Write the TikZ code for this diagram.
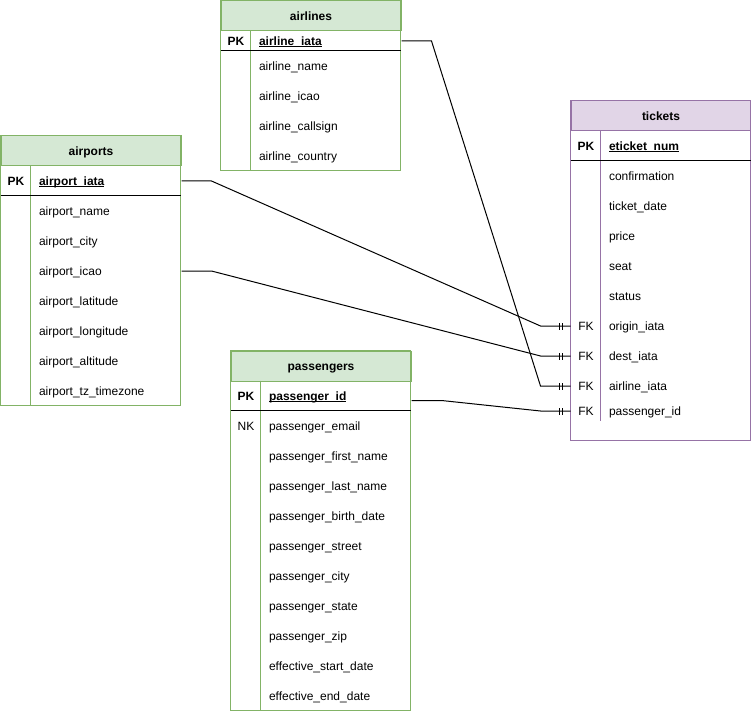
\documentclass[tikz,border=0pt]{standalone}
\usepackage{fontspec}
\setmainfont{Liberation Sans}
\usetikzlibrary{decorations.markings}
\newcommand{\pkname}[1]{\sbox0{#1}\rlap{\rule[-1.6pt]{\wd0}{0.7pt}}\usebox0}
\newcommand{\fsz}{\fontsize{12}{14}\selectfont}

\begin{document}
\begin{tikzpicture}[x=1pt, y=-1pt, line width=1pt, font=\fsz]
\definecolor{cG}{HTML}{D5E8D4}
\definecolor{cGd}{HTML}{82B366}
\definecolor{cP}{HTML}{E1D5E7}
\definecolor{cPd}{HTML}{9673A6}
\tikzset{
  hdr/.style={anchor=north west, minimum width=180, minimum height=30, inner sep=0, font=\fsz\bfseries, text height=10.5pt, text depth=1.5pt},
  kcol/.style={anchor=north west, minimum width=30, minimum height=30, inner sep=0, text height=10.5pt, text depth=1.5pt},
  fld/.style={anchor=north west, minimum height=30, inner xsep=8pt, inner ysep=0, text width=134pt, align=left, text height=10.5pt, text depth=1.5pt},
  fk/.style={postaction={decorate}, decoration={markings,
      mark=at position -8pt with {\draw[line width=1pt] (0,-3.5pt) -- (0,3.5pt);},
      mark=at position -11pt with {\draw[line width=1pt] (0,-3.5pt) -- (0,3.5pt);}}}
}
\useasboundingbox (0,0) rectangle (751,711);

% airports
\def\xu{0.5}
\def\yu{135.5}
\node[hdr, fill=cG, draw=cGd] (ap) at (\xu,\yu) {airports};
\node[kcol, font=\fsz\bfseries] (ap-k) at (\xu,\yu+30) {PK};
\node[fld, font=\fsz\bfseries] (ap-pk) at (\xu+30,\yu+30) {\pkname{airport\_iata}};
\foreach \i/\f in {1/airport\_name, 2/airport\_city, 3/airport\_icao, 4/airport\_latitude,
    5/airport\_longitude, 6/airport\_altitude, 7/airport\_tz\_timezone}{
  \node[fld] (ap-\i) at (\xu+30,\yu+30+30*\i) {\f};
}
\draw[cGd] (\xu,\yu) rectangle ++(180,270);
\draw[cGd] (\xu+30,\yu+30) -- ++(0,240);
\draw (\xu,\yu+60) -- ++(180,0);

% airlines
\def\xu{220.5}
\def\yu{0.5}
\node[hdr, fill=cG, draw=cGd] (al) at (\xu,\yu) {airlines};
\node[kcol, minimum height=20, font=\fsz\bfseries] (al-k) at (\xu,\yu+30) {PK};
\node[fld, minimum height=20, font=\fsz\bfseries] (al-pk) at (\xu+30,\yu+30) {\pkname{airline\_iata}};
\foreach \i/\f in {1/airline\_name, 2/airline\_icao, 3/airline\_callsign, 4/airline\_country}{
  \node[fld] (al-\i) at (\xu+30,\yu+20+30*\i) {\f};
}
\draw[cGd] (\xu,\yu) rectangle ++(180,170);
\draw[cGd] (\xu+30,\yu+30) -- ++(0,140);
\draw (\xu,\yu+50) -- ++(180,0);

% tickets
\def\xu{570.5}
\def\yu{100.5}
\node[hdr, fill=cP, draw=cPd] (tk) at (\xu,\yu) {tickets};
\node[kcol, font=\fsz\bfseries] (tk-k) at (\xu,\yu+30) {PK};
\node[fld, font=\fsz\bfseries] (tk-pk) at (\xu+30,\yu+30) {\pkname{eticket\_num}};
\foreach \i/\f in {1/confirmation, 2/ticket\_date, 3/price, 4/seat, 5/status,
    6/origin\_iata, 7/dest\_iata, 8/airline\_iata}{
  \node[fld] (tk-\i) at (\xu+30,\yu+30+30*\i) {\f};
}
\node[fld, minimum height=20] (tk-9) at (\xu+30,\yu+300) {passenger\_id};
\foreach \i in {6,7,8}{
  \node[kcol] (tk-fk\i) at (\xu,\yu+30+30*\i) {FK};
}
\node[kcol, minimum height=20] (tk-fk9) at (\xu,\yu+300) {FK};
\draw[cPd] (\xu,\yu) rectangle ++(180,340);
\draw[cPd] (\xu+30,\yu+30) -- ++(0,290);
\draw (\xu,\yu+60) -- ++(180,0);

% passengers
\def\xu{230.5}
\def\yu{350.5}
\node[hdr, fill=cG, draw=cGd] (pa) at (\xu,\yu) {passengers};
\node[kcol, font=\fsz\bfseries] (pa-k) at (\xu,\yu+30) {PK};
\node[fld, font=\fsz\bfseries] (pa-pk) at (\xu+30,\yu+30) {\pkname{passenger\_id}};
\node[kcol] (pa-nk) at (\xu,\yu+60) {NK};
\foreach \i/\f in {1/passenger\_email, 2/passenger\_first\_name, 3/passenger\_last\_name,
    4/passenger\_birth\_date, 5/passenger\_street, 6/passenger\_city, 7/passenger\_state,
    8/passenger\_zip, 9/effective\_start\_date, 10/effective\_end\_date}{
  \node[fld] (pa-\i) at (\xu+30,\yu+30+30*\i) {\f};
}
\draw[cGd] (\xu,\yu) rectangle ++(180,360);
\draw[cGd] (\xu+30,\yu+30) -- ++(0,330);
\draw (\xu,\yu+60) -- ++(180,0);

% relations
\draw[fk] (ap-pk.east) -- ++(30,0) -- ([xshift=-30]tk-fk6.west) -- (tk-fk6.west);
\draw[fk] (ap-3.east) -- ++(30,0) -- ([xshift=-30]tk-fk7.west) -- (tk-fk7.west);
\draw[fk] (al-pk.east) -- ++(30,0) -- ([xshift=-30]tk-fk8.west) -- (tk-fk8.west);
\draw[fk] ([yshift=-4.5pt]pa-pk.east) -- ++(30,0) -- ([xshift=-30]tk-fk9.west) -- (tk-fk9.west);
\end{tikzpicture}
\end{document}
